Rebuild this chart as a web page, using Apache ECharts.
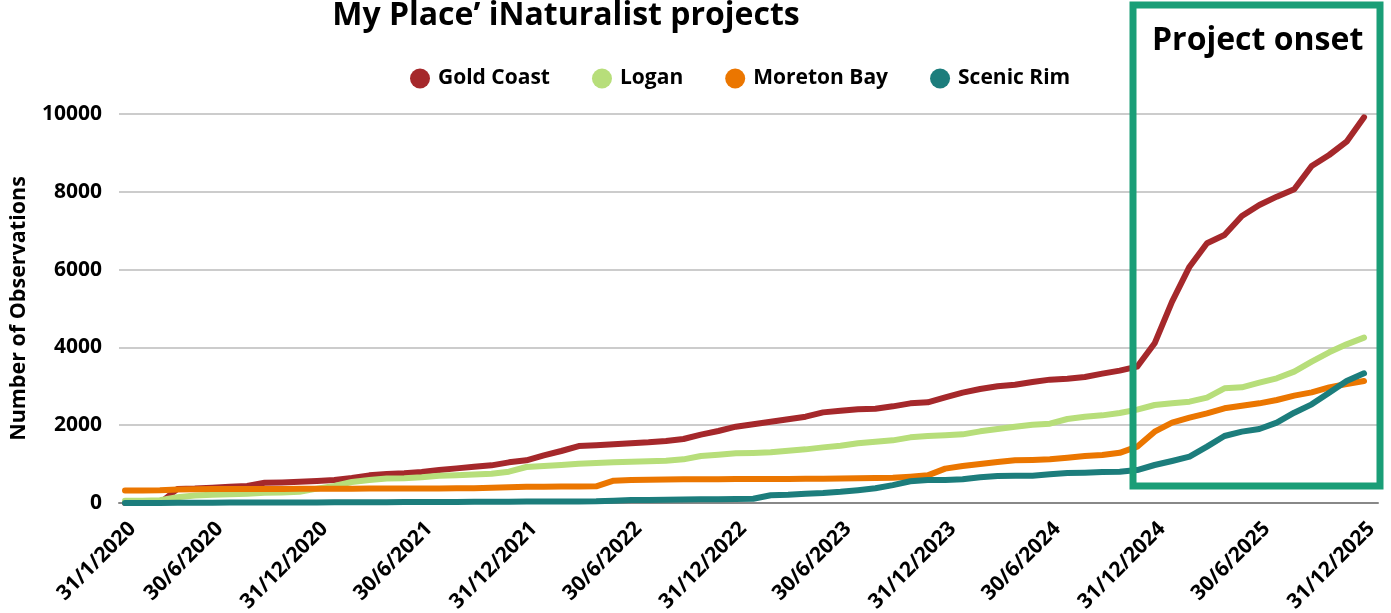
<!DOCTYPE html>
<html>
<head>
<meta charset="utf-8">
<script src="https://cdn.jsdelivr.net/npm/echarts@6/dist/echarts.min.js"></script>
<style>
  html, body { margin: 0; padding: 0; background: #fff; }
  #chart { width: 1391px; height: 613px; }
</style>
</head>
<body>
<div id="chart"></div>
<script>
// month-end dates, Jan 2020 .. Dec 2025
const months = [
  '31/1/2020', '29/2/2020', '31/3/2020', '30/4/2020', '31/5/2020', '30/6/2020', '31/7/2020', '31/8/2020', '30/9/2020', '31/10/2020', '30/11/2020', '31/12/2020',
  '31/1/2021', '28/2/2021', '31/3/2021', '30/4/2021', '31/5/2021', '30/6/2021', '31/7/2021', '31/8/2021', '30/9/2021', '31/10/2021', '30/11/2021', '31/12/2021',
  '31/1/2022', '28/2/2022', '31/3/2022', '30/4/2022', '31/5/2022', '30/6/2022', '31/7/2022', '31/8/2022', '30/9/2022', '31/10/2022', '30/11/2022', '31/12/2022',
  '31/1/2023', '28/2/2023', '31/3/2023', '30/4/2023', '31/5/2023', '30/6/2023', '31/7/2023', '31/8/2023', '30/9/2023', '31/10/2023', '30/11/2023', '31/12/2023',
  '31/1/2024', '29/2/2024', '31/3/2024', '30/4/2024', '31/5/2024', '30/6/2024', '31/7/2024', '31/8/2024', '30/9/2024', '31/10/2024', '30/11/2024', '31/12/2024',
  '31/1/2025', '28/2/2025', '31/3/2025', '30/4/2025', '31/5/2025', '30/6/2025', '31/7/2025', '31/8/2025', '30/9/2025', '31/10/2025', '30/11/2025', '31/12/2025',
]

// which dates get a tick label
const labelDates = [
  '31/1/2020', '30/6/2020', '31/12/2020', '30/6/2021', '31/12/2021', '30/6/2022', '31/12/2022',
  '30/6/2023', '31/12/2023', '30/6/2024', '31/12/2024', '30/6/2025', '31/12/2025',
]

const goldCoast = [
  0, 0, 0, 360, 370, 395, 420, 440, 520, 530, 549, 566,
  591, 643, 711, 746, 763, 797, 848, 890, 930, 968, 1045, 1097,
  1225, 1337, 1465, 1482, 1508, 1534, 1559, 1594, 1645, 1757, 1851, 1962,
  2022, 2091, 2151, 2219, 2330, 2373, 2408, 2425, 2485, 2562, 2588, 2716,
  2837, 2931, 2999, 3042, 3111, 3171, 3196, 3239, 3325, 3402, 3504, 4105,
  5175, 6075, 6676, 6889, 7378, 7661, 7875, 8064, 8663, 8946, 9288, 9915,
]

const logan = [
  60, 60, 70, 150, 190, 210, 225, 240, 265, 270, 290, 370,
  440, 540, 590, 630, 635, 660, 700, 715, 730, 750, 805, 925,
  951, 977, 1011, 1028, 1045, 1063, 1071, 1088, 1122, 1208, 1243, 1277,
  1285, 1302, 1346, 1379, 1430, 1474, 1534, 1577, 1611, 1688, 1722, 1740,
  1765, 1842, 1902, 1962, 2014, 2040, 2159, 2219, 2253, 2315, 2400, 2519,
  2563, 2605, 2707, 2948, 2974, 3093, 3206, 3376, 3633, 3874, 4079, 4250,
]

const moretonBay = [
  320, 320, 325, 350, 355, 358, 360, 360, 362, 362, 364, 366,
  368, 368, 370, 370, 372, 372, 374, 376, 378, 390, 405, 415,
  420, 422, 425, 430, 574, 591, 600, 605, 608, 610, 612, 615,
  616, 618, 620, 622, 625, 630, 634, 640, 651, 677, 711, 883,
  951, 1003, 1054, 1097, 1105, 1122, 1166, 1208, 1234, 1290, 1448, 1834,
  2065, 2194, 2305, 2434, 2502, 2562, 2648, 2759, 2845, 2973, 3059, 3136,
]

const scenicRim = [
  0, 0, 2, 5, 6, 8, 10, 10, 12, 14, 15, 16,
  18, 20, 20, 22, 24, 25, 26, 28, 30, 32, 35, 38,
  40, 40, 40, 42, 60, 77, 80, 85, 90, 95, 95, 100,
  110, 200, 215, 240, 260, 290, 330, 380, 460, 560, 591, 591,
  608, 660, 694, 703, 703, 737, 771, 780, 797, 806, 848, 977,
  1080, 1191, 1448, 1722, 1834, 1902, 2065, 2322, 2536, 2837, 3136, 3333,
]

const seriesNames = ['Gold Coast', 'Logan', 'Moreton Bay', 'Scenic Rim']
const seriesColors = ['#a5282b', '#b7de7a', '#eb7600', '#1c7d7c']
const seriesData = [goldCoast, logan, moretonBay, scenicRim]

const FONT = '"Open Sans", "Noto Sans", sans-serif'

// x is the month index; the axis is a bit wider than the data so gridlines overhang
const labelIdx = labelDates.map((d) => months.indexOf(d))

const chart = echarts.init(document.getElementById('chart'))

chart.setOption({
  animation: false,
  textStyle: { fontFamily: FONT },
  title: {
    text: 'My Place\u2019 iNaturalist projects',
    left: 561,
    textAlign: 'center',
    top: -5,
    textStyle: { fontSize: 32, fontWeight: 'bold', color: '#000', fontFamily: FONT },
  },
  legend: {
    data: seriesNames,
    left: 405,
    top: 63,
    icon: 'circle',
    itemWidth: 20,
    itemHeight: 20,
    itemGap: 42,
    textStyle: { fontSize: 21, fontWeight: 'bold', color: '#000', fontFamily: FONT, padding: [0, 0, 0, 3] },
  },
  grid: { left: 119, right: 13, top: 114, bottom: 110, outerBoundsMode: 'none' },
  xAxis: {
    type: 'value',
    min: -0.344,
    max: 71.8,
    splitLine: { show: false },
    axisLine: { onZero: false, lineStyle: { color: '#888', width: 2 } },
    axisTick: { show: false },
    axisLabel: {
      customValues: labelIdx,
      formatter: (v) => months[Math.round(v)],
      rotate: 45,
      margin: 15,
      verticalAlign: 'top',
      fontSize: 21,
      fontWeight: 'bold',
      color: '#000',
      fontFamily: FONT,
    },
  },
  yAxis: {
    type: 'value',
    min: 0,
    max: 10000,
    interval: 2000,
    name: 'Number of Observations',
    nameLocation: 'middle',
    nameGap: 89,
    nameTextStyle: { fontSize: 21.5, fontWeight: 'bold', color: '#000', fontFamily: FONT },
    axisLine: { show: false },
    axisTick: { show: false },
    axisLabel: {
      margin: 17,
      fontSize: 21,
      fontWeight: 'bold',
      color: '#000',
      fontFamily: FONT,
      formatter: (v) => String(v),
    },
    splitLine: { lineStyle: { color: '#cccccc', width: 2 } },
  },
  series: seriesNames.map((name, k) => ({
    name,
    type: 'line',
    data: seriesData[k].map((v, i) => [i, v]),
    showSymbol: false,
    symbol: 'circle',
    color: seriesColors[k],
    lineStyle: { width: 6, cap: 'round', join: 'round' },
  })),
  graphic: [
    {
      type: 'rect',
      shape: { x: 1133, y: 5, width: 247, height: 481 },
      style: { fill: 'none', stroke: '#1a9e77', lineWidth: 7 },
      z: 10,
    },
    {
      type: 'text',
      x: 1152,
      y: 25,
      style: {
        text: 'Project onset',
        font: 'bold 32px ' + FONT,
        fill: '#000',
      },
      z: 10,
    },
  ],
})
</script>
</body>
</html>
